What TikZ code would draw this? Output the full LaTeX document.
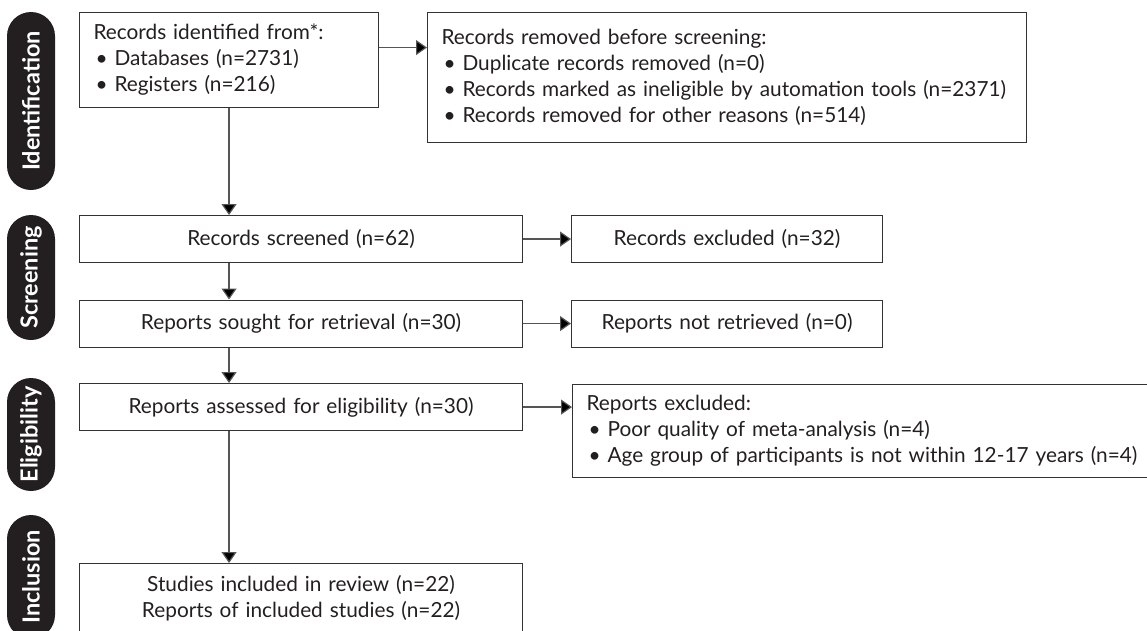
\documentclass[tikz,border=0pt]{standalone}
\usepackage{fontspec}
\setmainfont{Lato}
\usetikzlibrary{arrows.meta,calc}
\definecolor{ink}{HTML}{231F20}
\definecolor{edge}{HTML}{333333}
\definecolor{wire}{HTML}{555555}
\newcommand{\bl}[1]{\mbox{\makebox[21pt][l]{\hspace{2pt}\textbullet}#1}}
\tikzset{
  box/.style={draw=edge, line width=1.1pt, anchor=north west, inner ysep=0pt, text=ink, font=\fontsize{20.8}{26}\selectfont},
  lbox/.style={box, align=left, inner xsep=14pt},
  cbox/.style={box, align=center, inner xsep=0pt},
  pill/.style={fill=ink, text=white, rotate=90, rounded corners=24pt, minimum height=48pt, inner sep=0pt, font=\fontsize{23.5}{24}\selectfont\bfseries},
  arr/.style={draw=wire, line width=1.2pt, -{Triangle[width=15pt,length=11pt,fill=black]}},
}
\begin{document}
\begin{tikzpicture}[x=1pt,y=-1pt]
\useasboundingbox (0,0) rectangle (1147,630);
% stage pills
\node[pill, minimum width=178pt] (pid) at (31,101) {Identification};
\node[pill, minimum width=125pt] (psc) at (31,277.5) {Screening};
\node[pill, minimum width=113pt] (pel) at (31,434.5) {Eligibility};
\node[pill, minimum width=124pt] (pin) at (31,577) {Inclusion};
% boxes
\node[lbox, text width=271pt, minimum height=95pt] (ident) at (79,12)
  {\mbox{Records identified from*:}\\ \bl{Databases (n=2731)}\\ \bl{Registers (n=216)}};
\node[lbox, text width=571pt, minimum height=130pt] (removed) at (427,12)
  {\mbox{Records removed before screening:}\\ \bl{Duplicate records removed (n=0)}\\ \bl{Records marked as ineligible by automation tools (n=2371)}\\ \bl{Records removed for other reasons (n=514)}};
\node[cbox, text width=443pt, minimum height=47pt] (screened) at (79,215) {Records screened (n=62)};
\node[cbox, text width=311pt, minimum height=47pt] (excluded) at (571,215) {Records excluded (n=32)};
\node[cbox, text width=443pt, minimum height=47pt] (sought) at (79,299.5) {Reports sought for retrieval (n=30)};
\node[cbox, text width=311pt, minimum height=47pt] (notret) at (571,299.5) {Reports not retrieved (n=0)};
\node[cbox, text width=443pt, minimum height=47pt] (assessed) at (79,383) {Reports assessed for eligibility (n=30)};
\node[lbox, text width=560pt, minimum height=93pt] (repexc) at (572,384)
  {\mbox{Reports excluded:}\\ \bl{Poor quality of meta-analysis (n=4)}\\ \bl{Age group of participants is not within 12-17 years (n=4)}};
\node[cbox, text width=443pt, minimum height=70pt] (included) at (79,563)
  {Studies included in review (n=22)\\ Reports of included studies (n=22)};
% connectors
\draw[arr] ([yshift=12.5pt]ident.east) -- ([yshift=12.5pt]ident.east -| removed.west);
\draw[arr] (ident.south) -- (ident.south |- screened.north);
\draw[arr] (screened.east) -- (excluded.west);
\draw[arr] (ident.south |- screened.south) -- (ident.south |- sought.north);
\draw[arr] (sought.east) -- (notret.west);
\draw[arr] (ident.south |- sought.south) -- (ident.south |- assessed.north);
\draw[arr] (assessed.east) -- (assessed.east -| repexc.west);
\draw[arr] (ident.south |- assessed.south) -- (ident.south |- included.north);
\end{tikzpicture}
\end{document}
